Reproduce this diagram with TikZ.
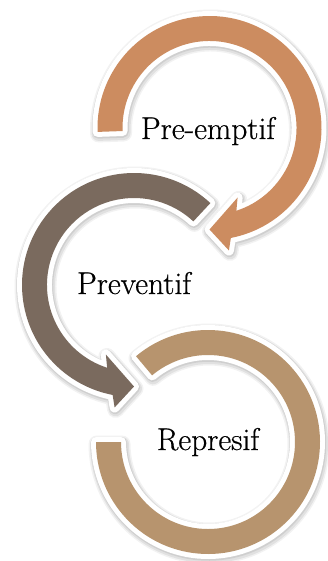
\documentclass[tikz,border=0pt]{standalone}
\usepackage{fontspec}
\newfontfamily\lblfont[FakeBold=0.5]{Latin Modern Roman}
\definecolor{orangeA}{RGB}{204,140,96}
\definecolor{brownA}{RGB}{122,106,94}
\definecolor{tanA}{RGB}{183,148,110}
\tikzset{
  arrowshape/.style={
    preaction={draw=black, draw opacity=0.05, line width=17pt, line join=round, transform canvas={shift={(1pt,-2pt)}}},
    preaction={draw=black, draw opacity=0.07, line width=14pt, line join=round, transform canvas={shift={(1pt,-2pt)}}},
    preaction={draw=black, draw opacity=0.08, line width=11.5pt, line join=round, transform canvas={shift={(0.5pt,-1pt)}}},
    preaction={draw=white, line width=10pt, line join=round},
  },
  label/.style={font=\lblfont\fontsize{31.5}{36}\selectfont, anchor=base, inner sep=0pt}
}
\begin{document}
\begin{tikzpicture}[x=1pt,y=1pt]
\useasboundingbox (0,0) rectangle (328,-561);
% tan arc (Represif)
\begin{scope}[shift={(208,-442)}]
\path[arrowshape, fill=tanA] (130:112) arc[start angle=130, end angle=-180, radius=112]
  -- (180:87) arc[start angle=-180, end angle=130, radius=87] -- cycle;
\end{scope}
% brown arrow (Preventif)
\begin{scope}[shift={(134,-285)}]
\path[arrowshape, fill=brownA] (47:112) arc[start angle=47, end angle=259, radius=112]
  -- (261:124) -- (270:101.5) -- (248:75) -- (252:87)
  arc[start angle=252, end angle=47, radius=87] -- cycle;
\end{scope}
% orange arrow (Pre-emptif)
\begin{scope}[shift={(209.5,-128)}]
\path[arrowshape, fill=orangeA] (182:112) arc[start angle=182, end angle=-79, radius=112]
  -- (-81:124) -- (-90:101.5) -- (-68:75) -- (-72:87)
  arc[start angle=-72, end angle=182, radius=87] -- cycle;
\end{scope}
\node[label] (pre) at (208,-139) {Pre-emptif};
\node[label] (prev) at (134,-294) {Preventif};
\node[label] (rep) at (208,-450) {Represif};
\end{tikzpicture}
\end{document}
